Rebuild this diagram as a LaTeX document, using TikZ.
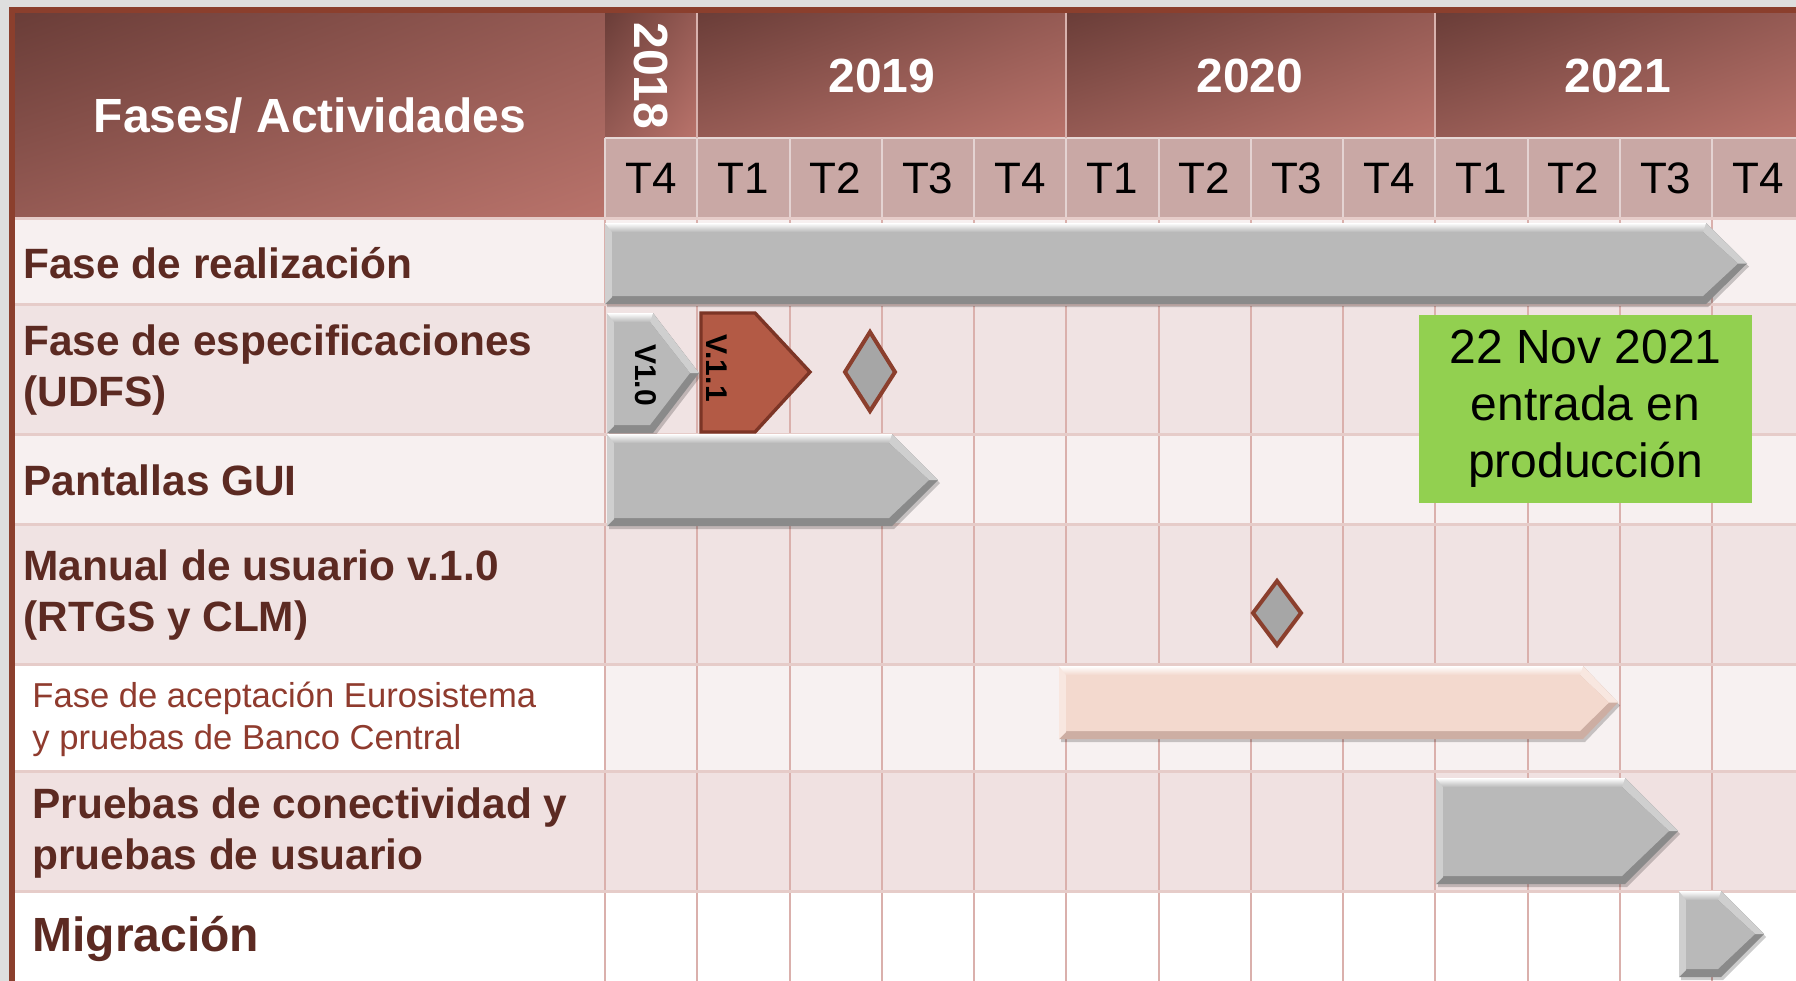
\documentclass[tikz,border=0pt]{standalone}
\usepackage{fontspec}
\setmainfont{Liberation Sans}
\usetikzlibrary{shadings}
\definecolor{outside}{HTML}{DEDEDE}
\definecolor{frame}{HTML}{8B3F2D}
\definecolor{hdark}{HTML}{6A3D38}
\definecolor{hlight}{HTML}{B9736B}
\colorlet{hmid}{hdark!45!hlight}
\definecolor{qcell}{HTML}{C9A8A5}
\definecolor{rowa}{HTML}{F7F0F0}
\definecolor{rowb}{HTML}{F0E3E3}
\definecolor{rowc}{HTML}{F7F1F1}
\definecolor{rowd}{HTML}{F0E1E1}
\definecolor{sepline}{HTML}{E6CCC9}
\definecolor{gridline}{HTML}{DAB0AC}
\definecolor{lbltext}{HTML}{5C2A22}
\definecolor{aceptext}{HTML}{8F3B2E}
\definecolor{graymain}{HTML}{B9B9B9}
\definecolor{graydark}{HTML}{8A8A8A}
\definecolor{graylight}{HTML}{CFCFCF}
\definecolor{peachmain}{HTML}{F3D9CE}
\definecolor{peachdark}{HTML}{CDAEA3}
\definecolor{peachlight}{HTML}{F8E7E0}
\definecolor{v11red}{HTML}{B35A45}
\definecolor{v11edge}{HTML}{7C3526}
\definecolor{hitogray}{HTML}{A6A6A6}
\definecolor{prodgreen}{HTML}{92D050}
\tikzset{
  hdrcell/.style={upper left=hdark,lower right=hlight,upper right=hmid,lower left=hmid},
  hdr/.style={text=white,font=\fontsize{24}{28}\selectfont\bfseries},
  qtr/.style={font=\fontsize{22}{26}\selectfont},
  lbl/.style={anchor=west,align=left,text=lbltext,inner sep=0pt,
    font=\fontsize{21.2}{25.5}\selectfont\bfseries},
  ver/.style={rotate=-90,inner sep=0pt,font=\fontsize{15}{18}\selectfont\bfseries},
  hito/.style={fill=hitogray,draw=frame,line width=2pt,line join=miter},
  vline/.style={gridline,line width=1pt},
  sep/.style={sepline,line width=1.5pt}
}
\newcommand{\ganttbar}[6]{%
  \pgfmathsetmacro{\gm}{(#3+#6)/2}%
  \fill[black,opacity=.2] (#2+2,#3+3) -- (#4+2,#3+3) -- (#5+2,\gm+3) -- (#4+2,#6+3) -- (#2+2,#6+3) -- cycle;
  \fill[#1dark] (#2,#3) -- (#4,#3) -- (#5,\gm) -- (#4,#6) -- (#2,#6) -- cycle;
  \fill[#1light] (#2,#3) -- (#4,#3) -- (#5,\gm) -- (#5-9,\gm) -- (#4-3,#3+9) -- (#2+7,#3+9) -- (#2+7,#6-7) -- (#2,#6) -- cycle;
  \shade[top color=white,bottom color=#1main] (#2,#3) -- (#4,#3) -- (#4-3,#3+9) -- (#2+7,#3+9) -- cycle;
  \fill[#1main] (#2+7,#3+9) -- (#4-3,#3+9) -- (#5-9,\gm) -- (#4-3,#6-8) -- (#2+7,#6-8) -- cycle;
}
\begin{document}
\begin{tikzpicture}[x=0.5pt,y=-0.5pt]
\useasboundingbox (0,0) rectangle (1796,981);
\fill[outside] (0,0) rectangle (1796,981);
\fill[frame] (9,7) rectangle (1796,981);
\shade[hdrcell] (15,13) rectangle (605,218);
\foreach \xa/\xb in {605/697,697/1066,1066/1435,1435/1803}
  \shade[hdrcell] (\xa,13) rectangle (\xb,138);
\fill[qcell] (605,138) rectangle (1796,218);
\draw[white!55!qcell,line width=1pt] (605,138) -- (1796,138);
\foreach \i in {1,5,9}
  \draw[white!45!hlight,line width=1pt] (605+92.25*\i,13) -- (605+92.25*\i,138);
\foreach \i in {0,...,12}
  \draw[white!50!qcell,line width=1pt] (605+92.25*\i,138) -- (605+92.25*\i,218);
\foreach \ya/\yb/\cl/\cg in {218/304/rowa/rowa,304/434/rowb/rowb,434/524/rowa/rowa,
    524/664/rowb/rowb,664/771/white/rowc,771/891/rowd/rowd,891/981/white/white}{
  \fill[\cl] (15,\ya) rectangle (605,\yb);
  \fill[\cg] (605,\ya) rectangle (1796,\yb);
}
\foreach \i in {0,...,12}
  \draw[vline] (605+92.25*\i,218) -- (605+92.25*\i,981);
\foreach \y in {218,304,434,524,664,771,891}
  \draw[sep] (15,\y) -- (1796,\y);

\node[hdr] (fases) at (310,116) {Fases/ Actividades};
\node[hdr,rotate=-90] (y2018) at (651,76) {2018};
\node[hdr] (y2019) at (882,76) {2019};
\node[hdr] (y2020) at (1250,76) {2020};
\node[hdr] (y2021) at (1618,76) {2021};
\foreach \q [count=\i from 0] in {T4,T1,T2,T3,T4,T1,T2,T3,T4,T1,T2,T3,T4}
  \node[qtr] (t\i) at (651+92.25*\i,178) {\q};

\node[lbl] (real) at (23,263) {Fase de realización};
\node[lbl] (espec) at (23,370) {Fase de especificaciones\\(UDFS)};
\node[lbl] (gui) at (23,480) {Pantallas GUI};
\node[lbl] (manual) at (23,595) {Manual de usuario v.1.0\\(RTGS y CLM)};
\node[lbl,text=aceptext,font=\fontsize{17.3}{21}\selectfont] (acep) at (32,719)
  {Fase de aceptación Eurosistema\\y pruebas de Banco Central};
\node[lbl] (pruebas) at (32,833) {Pruebas de conectividad y\\pruebas de usuario};
\node[lbl,font=\fontsize{24}{28}\selectfont\bfseries] (migr) at (32,939) {Migración};

\ganttbar{gray}{605}{223}{1706}{1747}{304}
\ganttbar{gray}{607}{313}{653}{699}{433}
\ganttbar{gray}{607}{434}{892}{938}{526}
\ganttbar{peach}{1059}{666}{1583}{1618}{739}
\ganttbar{gray}{1436}{778}{1625}{1678}{884}
\ganttbar{gray}{1679}{891}{1721}{1764}{977}
\draw[fill=v11red,draw=v11edge,line width=1.7pt] (701,313) -- (755,313) -- (810,372) -- (755,432) -- (701,432) -- cycle;
\draw[hito] (870,332) -- (895,372) -- (870,411) -- (845,372) -- cycle;
\draw[hito] (1277,581) -- (1301,613) -- (1277,645) -- (1253,613) -- cycle;
\node[ver] (v10) at (646,375) {V1.0};
\node[ver] (v11) at (717,368) {V.1.1};

\node[fill=prodgreen,minimum width=166.5pt,minimum height=94pt,inner sep=0pt,align=center,
  font=\fontsize{24}{28.5}\selectfont] (prod) at (1585.5,409)
  {22 Nov 2021\\entrada en\\producción};
\end{tikzpicture}
\end{document}
